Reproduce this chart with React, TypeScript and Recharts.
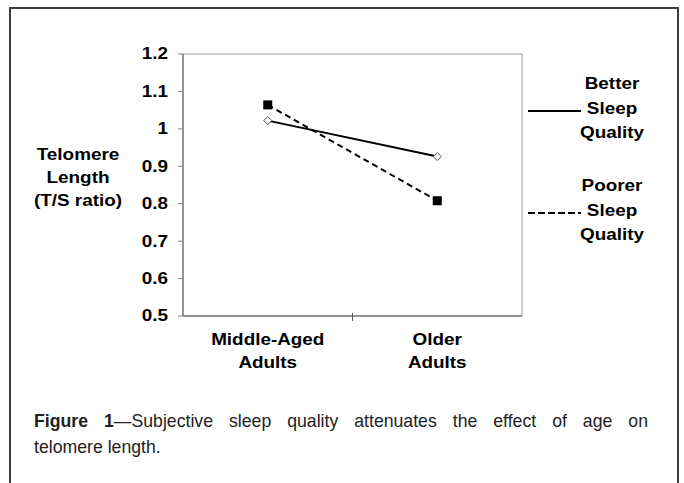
import React from 'react';
import {
  LineChart,
  Line,
  XAxis,
  YAxis,
  ReferenceArea,
} from 'recharts';

// values
const groups = ['Middle-Aged Adults', 'Older Adults'];
const groupPos = [0.5, 1.5];
const betterSleep = [1.022, 0.926];
const poorerSleep = [1.064, 0.808];
const yTicks = [0.5, 0.6, 0.7, 0.8, 0.9, 1, 1.1, 1.2];

const data = groups.map((g, i) => ({
  name: g,
  x: groupPos[i],
  better: betterSleep[i],
  poorer: poorerSleep[i],
}));

const FONT = '"Liberation Sans", Arial, sans-serif';
const AXIS_GRAY = '#808080';

const fmt = (v: number) => String(Number(v.toFixed(1)));

const YTick = (props: any) => {
  const { x, y, payload } = props;
  return (
    <text
      transform={`translate(${x},${y}) scale(1.18,1)`}
      textAnchor="end"
      dominantBaseline="central"
      fontFamily={FONT}
      fontWeight="bold"
      fontSize={16}
      fill="#000"
    >
      {fmt(payload.value)}
    </text>
  );
};

const XTick = (props: any) => {
  const { x, y, payload } = props;
  const idx = groupPos.indexOf(payload.value);
  if (idx < 0) {
    // Excel-style tick between the two categories
    return <line x1={x} x2={x} y1={y - 3} y2={y + 5} stroke="#555" strokeWidth={1} />;
  }
  const lines = groups[idx].split(' ');
  return (
    <g transform={`translate(${x},${y}) scale(1.18,1)`}>
      {lines.map((t, i) => (
        <text
          key={t}
          x={0}
          y={24 + i * 23}
          textAnchor="middle"
          dominantBaseline="central"
          fontFamily={FONT}
          fontWeight="bold"
          fontSize={16}
          fill="#000"
        >
          {t}
        </text>
      ))}
    </g>
  );
};

const Diamond = (props: any) => {
  const { cx, cy } = props;
  if (cx == null || cy == null) return null;
  return (
    <path
      d={`M${cx},${cy - 4} L${cx + 4},${cy} L${cx},${cy + 4} L${cx - 4},${cy} Z`}
      fill="#fff"
      stroke="#555"
      strokeWidth={1}
    />
  );
};

const Square = (props: any) => {
  const { cx, cy } = props;
  if (cx == null || cy == null) return null;
  return <rect x={cx - 4.5} y={cy - 4.5} width={9} height={9} fill="#000" />;
};

const stretched: React.CSSProperties = {
  position: 'absolute',
  fontFamily: FONT,
  fontWeight: 'bold',
  fontSize: 16,
  color: '#000',
  whiteSpace: 'nowrap',
  transform: 'translate(-50%, -50%) scale(1.18, 1)',
  lineHeight: 1,
};

const legendItems = [
  { label: ['Better', 'Sleep', 'Quality'], top: 84, dash: undefined as string | undefined },
  { label: ['Poorer', 'Sleep', 'Quality'], top: 186, dash: '7 3' },
];

const captionStyle: React.CSSProperties = {
  fontFamily: FONT,
  fontSize: 19,
  lineHeight: '26px',
  color: '#222',
  whiteSpace: 'nowrap',
};

export default function App() {
  return (
    <div
      style={{
        position: 'absolute',
        left: 0,
        top: 0,
        width: 684,
        height: 483,
        background: '#fff',
        overflow: 'hidden',
      }}
    >
      <div
        style={{
          position: 'absolute',
          left: 9,
          top: 7,
          width: 670,
          height: 490,
          borderTop: '2px solid #3c3c3c',
          borderLeft: '2px solid #3c3c3c',
          borderRight: '2px solid #3c3c3c',
          boxSizing: 'border-box',
        }}
      />

      <div style={{ position: 'absolute', left: 0, top: 0 }}>
        <LineChart
          width={684}
          height={483}
          data={data}
          margin={{ top: 54, right: 162, bottom: 0, left: 0 }}
        >
          <ReferenceArea
            x1={0}
            x2={2}
            y1={0.5}
            y2={1.2}
            fill="none"
            stroke="#9a9a9a"
            strokeWidth={1}
          />
          <XAxis
            dataKey="x"
            type="number"
            domain={[0, 2]}
            ticks={[0.5, 1, 1.5]}
            tickLine={false}
            tickSize={0}
            tickMargin={0}
            axisLine={{ stroke: AXIS_GRAY, strokeWidth: 1.5 }}
            height={167}
            tick={<XTick />}
            interval={0}
          />
          <YAxis
            type="number"
            domain={[0.5, 1.2]}
            ticks={yTicks}
            width={183}
            tickSize={5}
            tickMargin={10}
            tickLine={{ stroke: AXIS_GRAY }}
            axisLine={{ stroke: AXIS_GRAY, strokeWidth: 1.5 }}
            tick={<YTick />}
            interval={0}
          />
          <Line
            dataKey="better"
            stroke="#000"
            strokeWidth={2}
            dot={<Diamond />}
            isAnimationActive={false}
          />
          <Line
            dataKey="poorer"
            stroke="#000"
            strokeWidth={2}
            strokeDasharray="6 4"
            dot={<Square />}
            isAnimationActive={false}
          />
        </LineChart>
      </div>

      {['Telomere', 'Length', '(T/S ratio)'].map((t, i) => (
        <div key={t} style={{ ...stretched, left: 78, top: 155 + i * 23 }}>
          {t}
        </div>
      ))}

      {legendItems.map((item) => (
        <React.Fragment key={item.label[0]}>
          <svg
            style={{ position: 'absolute', left: 526, top: item.top + 25, overflow: 'visible' }}
            width={56}
            height={4}
          >
            <line
              x1={2}
              x2={55}
              y1={2}
              y2={2}
              stroke="#000"
              strokeWidth={2}
              strokeDasharray={item.dash}
            />
          </svg>
          {item.label.map((t, i) => (
            <div key={t} style={{ ...stretched, left: 612, top: item.top + i * 24.5 }}>
              {t}
            </div>
          ))}
        </React.Fragment>
      ))}

      <div
        style={{
          position: 'absolute',
          left: 34,
          top: 408,
          width: 614 / 0.93,
          transform: 'scale(0.93, 1)',
          transformOrigin: '0 0',
        }}
      >
        <div style={{ ...captionStyle, textAlign: 'justify', textAlignLast: 'justify' }}>
          <b>Figure 1</b>—Subjective sleep quality attenuates the effect of age on
        </div>
        <div style={captionStyle}>telomere length.</div>
      </div>
    </div>
  );
}
